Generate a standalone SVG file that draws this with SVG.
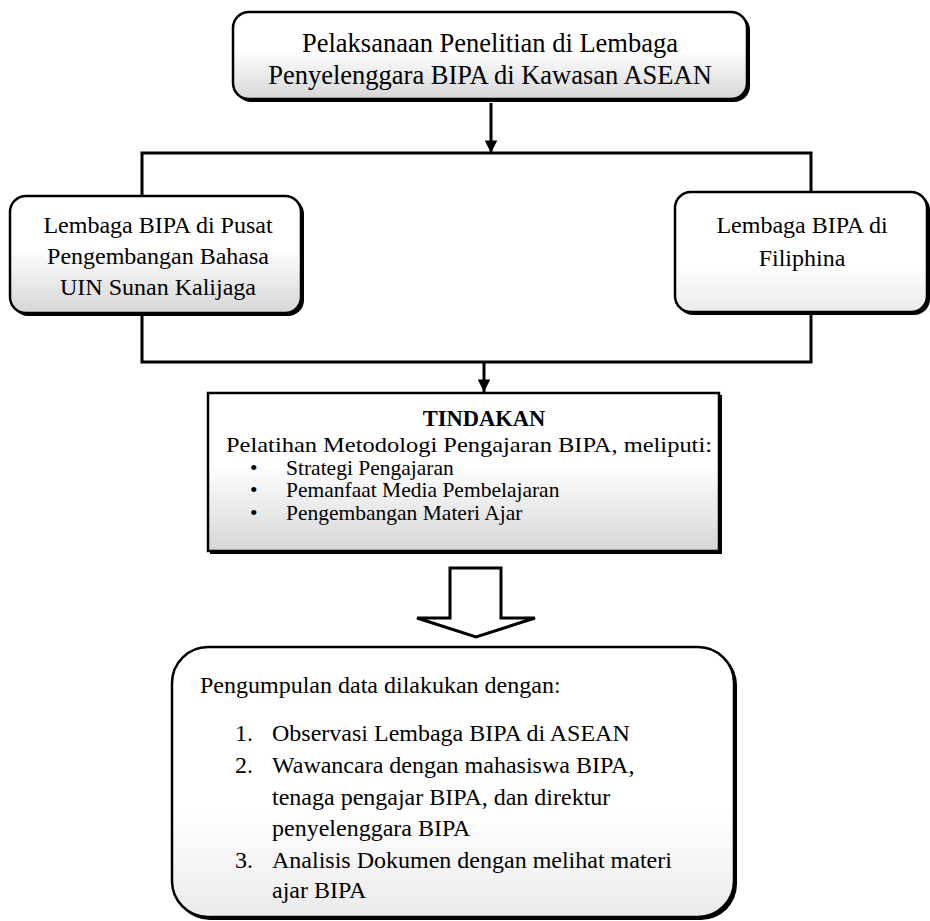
<svg xmlns="http://www.w3.org/2000/svg" width="930" height="921" viewBox="0 0 930 921">
  <style>
    text { font-family: "Liberation Serif", "Times New Roman", serif; fill: #000; }
    .t24 { font-size: 24px; }
    .t26 { font-size: 26.5px; }
    .tb { font-size: 21.5px; }
    .mid { text-anchor: middle; }
    .box { stroke: #000; stroke-width: 2.5; }
    .shadow { fill: #000; }
    .conn { stroke: #000; stroke-width: 3; fill: none; }
  </style>
  <defs>
    <linearGradient id="g1" x1="0" y1="0" x2="0" y2="1">
      <stop offset="0" stop-color="#ffffff"/>
      <stop offset="0.45" stop-color="#ffffff"/>
      <stop offset="1" stop-color="#d6d6d6"/>
    </linearGradient>
    <linearGradient id="g2" x1="0" y1="0" x2="0" y2="1">
      <stop offset="0" stop-color="#ffffff"/>
      <stop offset="0.6" stop-color="#ffffff"/>
      <stop offset="1" stop-color="#ebebeb"/>
    </linearGradient>
    <marker id="ah" viewBox="0 0 10 10" refX="10" refY="5" markerWidth="4.2" markerHeight="4.2" markerUnits="strokeWidth" orient="auto">
      <path d="M0,0 L10,5 L0,10 Z" fill="#000"/>
    </marker>
  </defs>

  <g id="connectors">
    <line class="conn" x1="491" y1="103" x2="491" y2="153" marker-end="url(#ah)"/>
    <polyline class="conn" points="142,196 142,153 811,153 811,192"/>
    <polyline class="conn" points="142,314 142,362 811,362 811,314"/>
    <line class="conn" x1="484" y1="362" x2="484" y2="392" marker-end="url(#ah)"/>
    <polygon points="450,568 501,568 501,618 535,618 476,637 417,618 450,618" fill="#fff" stroke="#000" stroke-width="3" stroke-linejoin="miter"/>
  </g>

  <g id="node-top">
    <rect class="shadow" x="235" y="14" width="515" height="88" rx="16"/>
    <rect class="box" x="233" y="12" width="514" height="87" rx="16" fill="url(#g1)"/>
    <text class="t26 mid" x="490" y="52">Pelaksanaan Penelitian di Lembaga</text>
    <text class="t26 mid" x="490" y="84">Penyelenggara BIPA di Kawasan ASEAN</text>
  </g>

  <g id="node-left">
    <rect class="shadow" x="12" y="198" width="292" height="118" rx="16"/>
    <rect class="box" x="10" y="196" width="291" height="117" rx="16" fill="url(#g1)"/>
    <text class="t24 mid" x="158" y="233">Lembaga BIPA di Pusat</text>
    <text class="t24 mid" x="158" y="264">Pengembangan Bahasa</text>
    <text class="t24 mid" x="158" y="295">UIN Sunan Kalijaga</text>
  </g>

  <g id="node-right">
    <rect class="shadow" x="677" y="194" width="253" height="121" rx="16"/>
    <rect class="box" x="675" y="192" width="252" height="120" rx="16" fill="url(#g2)"/>
    <text class="t24 mid" x="802" y="233">Lembaga BIPA di</text>
    <text class="t24 mid" x="802" y="266">Filiphina</text>
  </g>

  <g id="node-tindakan">
    <rect class="shadow" x="210" y="395" width="512" height="159"/>
    <rect class="box" x="208" y="393" width="511" height="158" fill="url(#g1)"/>
    <text x="484" y="426" font-size="22.5" font-weight="bold" class="mid">TINDAKAN</text>
    <text x="226" y="452" font-size="22" textLength="486" lengthAdjust="spacingAndGlyphs">Pelatihan Metodologi Pengajaran BIPA, meliputi:</text>
    <text class="tb" x="250" y="474.5">•</text>
    <text class="tb" x="286" y="474.5">Strategi Pengajaran</text>
    <text class="tb" x="250" y="497">•</text>
    <text class="tb" x="286" y="497">Pemanfaat Media Pembelajaran</text>
    <text class="tb" x="250" y="519.5">•</text>
    <text class="tb" x="286" y="519.5">Pengembangan Materi Ajar</text>
  </g>

  <g id="node-bottom">
    <rect class="shadow" x="174" y="649" width="563" height="271" rx="36"/>
    <rect class="box" x="172" y="647" width="562" height="270" rx="36" fill="url(#g2)"/>
    <text class="t24" x="200" y="693">Pengumpulan data dilakukan dengan:</text>
    <text class="t24" x="235" y="741">1.</text>
    <text class="t24" x="272" y="741">Observasi Lembaga BIPA di ASEAN</text>
    <text class="t24" x="235" y="773">2.</text>
    <text class="t24" x="272" y="773">Wawancara dengan mahasiswa BIPA,</text>
    <text class="t24" x="272" y="805">tenaga pengajar BIPA, dan direktur</text>
    <text class="t24" x="272" y="836">penyelenggara BIPA</text>
    <text class="t24" x="235" y="868">3.</text>
    <text class="t24" x="272" y="868">Analisis Dokumen dengan melihat materi</text>
    <text class="t24" x="272" y="898">ajar BIPA</text>
  </g>
</svg>
